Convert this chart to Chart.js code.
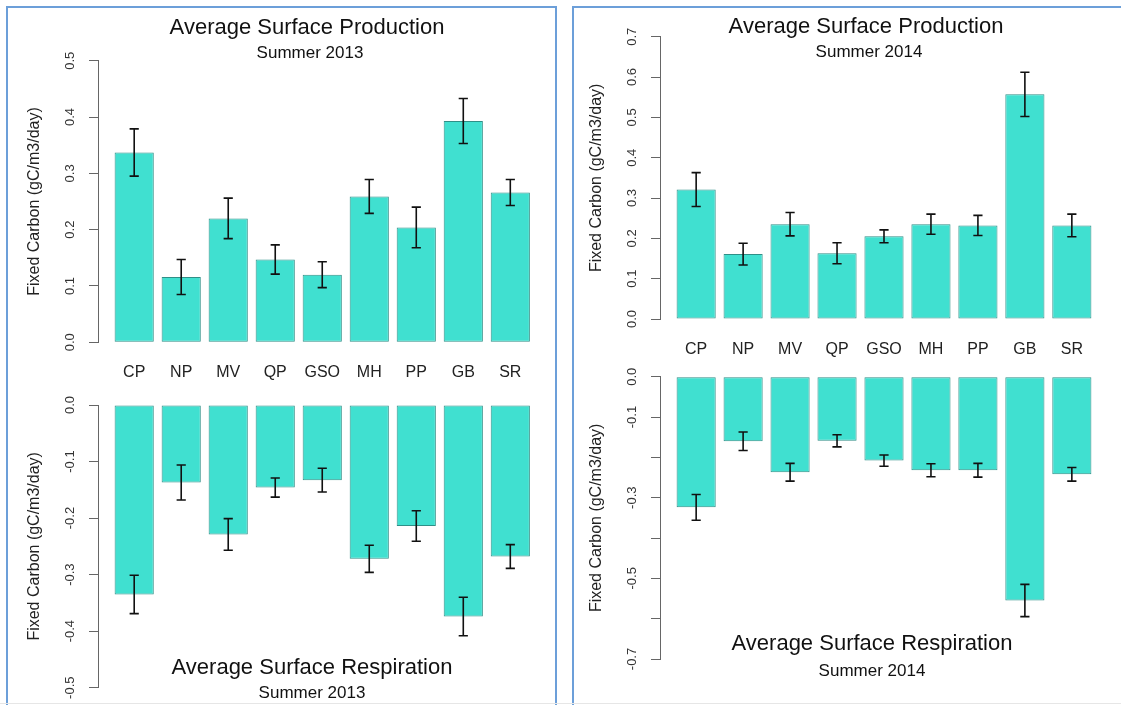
<!DOCTYPE html>
<html>
<head>
<meta charset="utf-8">
<title>Average Surface Production and Respiration</title>
<script src="https://cdn.jsdelivr.net/npm/chart.js@4/dist/chart.umd.min.js"></script>
<style>
  html, body { margin: 0; padding: 0; background: #ffffff; }
  body {
    width: 1121px; height: 705px; position: relative; overflow: hidden;
    font-family: "Liberation Sans", Arial, Helvetica, sans-serif;
  }
  canvas { position: absolute; left: 0; top: 0; }
  .panel { position: absolute; border: 2px solid #6c9fd9; box-sizing: border-box; }
  .rule { position: absolute; left: 0; top: 703px; width: 1121px; height: 1px; background: #e6e6e6; }
  .t { position: absolute; transform: translateX(-50%); line-height: 1; white-space: nowrap; color: #111; }
  .main { font-size: 22px; }
  .sub { font-size: 17px; }
</style>
</head>
<body>
<div class="panel" style="left:6px; top:6px; width:551px; height:720px;"></div>
<div class="panel" style="left:572px; top:6px; width:600px; height:720px;"></div>
<div class="rule"></div>

<canvas id="prod2013" width="1121" height="705"></canvas>
<canvas id="resp2013" width="1121" height="705"></canvas>
<canvas id="prod2014" width="1121" height="705"></canvas>
<canvas id="resp2014" width="1121" height="705"></canvas>

<div class="t main" style="left:307px; top:16px;">Average Surface Production</div>
<div class="t sub" style="left:310px; top:44px;">Summer 2013</div>
<div class="t main" style="left:312px; top:656px;">Average Surface Respiration</div>
<div class="t sub" style="left:312px; top:684px;">Summer 2013</div>
<div class="t main" style="left:866px; top:15px;">Average Surface Production</div>
<div class="t sub" style="left:869px; top:43px;">Summer 2014</div>
<div class="t main" style="left:872px; top:632px;">Average Surface Respiration</div>
<div class="t sub" style="left:872px; top:662px;">Summer 2014</div>

<script>
// Sampling sites along the x axis
const categories = ['CP', 'NP', 'MV', 'QP', 'GSO', 'MH', 'PP', 'GB', 'SR'];

// Summer 2013 (gC/m3/day) with standard errors
const prod2013    = [0.337, 0.116, 0.220, 0.147, 0.120, 0.259, 0.204, 0.393, 0.266];
const prod2013Err = [0.042, 0.031, 0.036, 0.026, 0.023, 0.030, 0.036, 0.040, 0.023];
const resp2013    = [-0.335, -0.137, -0.229, -0.146, -0.133, -0.272, -0.214, -0.374, -0.268];
const resp2013Err = [0.034, 0.031, 0.028, 0.017, 0.021, 0.024, 0.027, 0.034, 0.021];

// Summer 2014 (gC/m3/day) with standard errors
const prod2014    = [0.321, 0.161, 0.235, 0.163, 0.205, 0.235, 0.232, 0.557, 0.232];
const prod2014Err = [0.042, 0.027, 0.029, 0.026, 0.016, 0.025, 0.025, 0.055, 0.028];
const resp2014    = [-0.324, -0.160, -0.237, -0.159, -0.208, -0.232, -0.232, -0.555, -0.242];
const resp2014Err = [0.032, 0.023, 0.022, 0.015, 0.014, 0.016, 0.017, 0.040, 0.017];

// Value-axis limits and labelled ticks
const axisProd2013 = [0, 0.5];
const axisResp2013 = [-0.5, 0];
const axisProd2014 = [0, 0.7];
const axisResp2014 = [-0.7, 0];
const labelledResp2014 = [0, -0.1, -0.3, -0.5, -0.7];

const FONT = '"Liberation Sans", Arial, Helvetica, sans-serif';
const BAR_FILL = '#40E0D0';
const BAR_EDGE = '#2f8f87';
const AXIS = '#666666';
const W = 1121, H = 705;
Chart.defaults.font.family = FONT;

// Draws +/- error whiskers with caps on top of every bar
const errorBars = {
  id: 'errorBars',
  afterDatasetsDraw(chart) {
    const ds = chart.data.datasets[0];
    const meta = chart.getDatasetMeta(0);
    const y = chart.scales.y;
    const ctx = chart.ctx;
    const cap = 4.6;
    ctx.save();
    ctx.strokeStyle = '#111111';
    ctx.lineWidth = 1.6;
    meta.data.forEach((bar, i) => {
      const v = ds.data[i].y;
      const e = ds.errors[i];
      const y1 = y.getPixelForValue(v + e);
      const y2 = y.getPixelForValue(v - e);
      const x = bar.x;
      ctx.beginPath();
      ctx.moveTo(x, y1); ctx.lineTo(x, y2);
      ctx.moveTo(x - cap, y1); ctx.lineTo(x + cap, y1);
      ctx.moveTo(x - cap, y2); ctx.lineTo(x + cap, y2);
      ctx.stroke();
    });
    ctx.restore();
  }
};

function makeChart(id, o) {
  const Y_W = 80, X_H = 60;
  return new Chart(document.getElementById(id), {
    type: 'bar',
    data: {
      datasets: [{
        data: o.values.map((v, i) => ({ x: i, y: v })),
        errors: o.errors,
        backgroundColor: BAR_FILL,
        borderColor: BAR_EDGE,
        borderWidth: 1,
        borderSkipped: false,
        categoryPercentage: 1,
        barPercentage: 1 / 1.2,
        clip: false
      }]
    },
    plugins: [errorBars],
    options: {
      responsive: false,
      animation: false,
      devicePixelRatio: 1,
      events: [],
      layout: {
        padding: {
          left: o.area.left - Y_W,
          right: W - o.area.right,
          top: o.area.top,
          bottom: H - o.area.bottom - (o.showX ? X_H : 0)
        }
      },
      plugins: {
        legend: { display: false },
        tooltip: { enabled: false },
        title: { display: false }
      },
      scales: {
        x: {
          type: 'linear',
          min: -0.77,
          max: 8.77,
          offset: false,
          display: o.showX,
          afterBuildTicks: s => { s.ticks = categories.map((c, i) => ({ value: i })); },
          afterFit: s => { if (o.showX) s.height = X_H; },
          grid: { display: false, drawTicks: false },
          border: { display: false },
          ticks: {
            autoSkip: false,
            minRotation: 0,
            maxRotation: 0,
            padding: 20.7,
            color: '#222222',
            font: { size: 16, family: FONT },
            callback: (v, i) => categories[i]
          }
        },
        y: {
          min: o.range[0],
          max: o.range[1],
          afterFit: s => { s.width = Y_W; },
          border: { display: true, color: AXIS, width: 1 },
          grid: {
            display: true,
            drawOnChartArea: false,
            drawTicks: true,
            tickLength: 9,
            color: AXIS,
            lineWidth: 1
          },
          ticks: {
            stepSize: 0.1,
            autoSkip: false,
            minRotation: 90,
            maxRotation: 90,
            crossAlign: 'center',
            padding: o.tickPad,
            color: '#333333',
            font: { size: 13, family: FONT },
            callback: v => {
              let r = Math.round(v * 10) / 10;
              if (r === 0) r = 0;
              if (o.labelled && !o.labelled.some(t => Math.abs(t - r) < 1e-9)) return '';
              return r.toFixed(1);
            }
          },
          title: {
            display: true,
            text: 'Fixed Carbon (gC/m3/day)',
            color: '#222222',
            font: { size: 16, family: FONT },
            padding: { top: 6.9, bottom: 0 }
          }
        }
      }
    }
  });
}

makeChart('prod2013', {
  values: prod2013, errors: prod2013Err, range: axisProd2013,
  area: { left: 98, right: 546.5, top: 60.7, bottom: 342.3 },
  showX: true, tickPad: 9.5
});
makeChart('resp2013', {
  values: resp2013, errors: resp2013Err, range: axisResp2013,
  area: { left: 98, right: 546.5, top: 405, bottom: 687.7 },
  showX: false, tickPad: 7.3
});
makeChart('prod2014', {
  values: prod2014, errors: prod2014Err, range: axisProd2014,
  area: { left: 660, right: 1108, top: 36.7, bottom: 319 },
  showX: true, tickPad: 9.5
});
makeChart('resp2014', {
  values: resp2014, errors: resp2014Err, range: axisResp2014,
  area: { left: 660, right: 1108, top: 376.7, bottom: 659 },
  showX: false, tickPad: 7.3, labelled: labelledResp2014
});
</script>
</body>
</html>
